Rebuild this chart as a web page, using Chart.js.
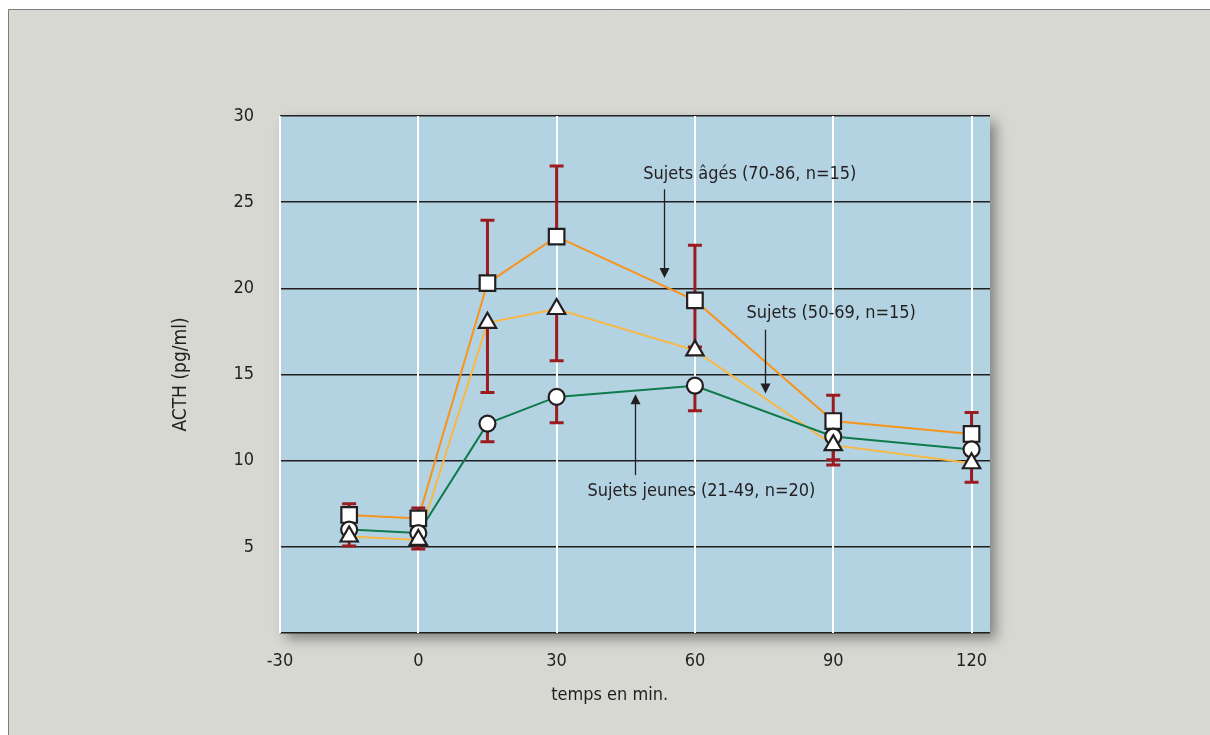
<!DOCTYPE html>
<html lang="fr">
<head>
<meta charset="utf-8">
<title>ACTH</title>
<script src="https://cdn.jsdelivr.net/npm/chart.js@4.4.1/dist/chart.umd.min.js"></script>
<style>
    html, body { margin: 0; padding: 0; background: #ffffff; }
    #acthChart { display: block; }
</style>
</head>
<body>
<canvas id="acthChart" width="1210" height="735"></canvas>
<script>
// temps (min) et ACTH moyenne (pg/ml) par groupe
const temps = [-15, 0, 15, 30, 60, 90, 120];

const agesMoy = [6.85, 6.65, 20.3, 23.0, 19.3, 12.3, 11.55];
const agesErrHaut = [7.5, 7.25, 23.95, 27.1, 22.5, 13.8, 12.8];
const agesErrBas = [null, null, null, null, 16.6, null, null];

const moyensMoy = [5.6, 5.4, 18.0, 18.8, 16.4, 10.9, 9.85];
const moyensErrBas = [5.05, 4.87, 13.95, 15.8, null, 9.75, 8.75];

const jeunesMoy = [6.0, 5.8, 12.15, 13.7, 14.35, 11.4, 10.65];
const jeunesErrBas = [null, null, 11.1, 12.2, 12.9, 10.05, null];

const xTicks = [-30, 0, 30, 60, 90, 120];
const yTicks = [5, 10, 15, 20, 25, 30];

// étiquettes avec flèche (coordonnées en unités des axes)
const etiquettes = [
    { texte: "Sujets âgés (70-86, n=15)", x: 48.8, y: 26.6, flecheX: 53.2, de: 25.75, a: 20.6 },
    { texte: "Sujets (50-69, n=15)", x: 71.2, y: 18.55, flecheX: 75.3, de: 17.6, a: 13.9 },
    { texte: "Sujets jeunes (21-49, n=20)", x: 36.7, y: 8.2, flecheX: 47.1, de: 9.16, a: 13.86 }
];

const couleurs = {
    fond: "#d8d8d3",
    cadre: "#7d7d7d",
    zone: "#b3d3e3",
    ages: "#f7941d",
    moyens: "#f8b843",
    jeunes: "#0f7a4b",
    erreur: "#9b1c20",
    texte: "#231f20"
};

const police = '"Liberation Sans Narrow", "DejaVu Sans Condensed", "Roboto", sans-serif';
Chart.defaults.font.family = police;
Chart.defaults.color = couleurs.texte;

function points(valeurs) {
    return temps.map((t, i) => ({ x: t, y: valeurs[i] }));
}

const fondPlugin = {
    id: "fondPlugin",
    beforeDraw(chart) {
        const { ctx, chartArea, width, height } = chart;
        ctx.save();
        ctx.fillStyle = "#ffffff";
        ctx.fillRect(0, 0, width, height);
        ctx.fillStyle = couleurs.fond;
        ctx.fillRect(8, 9, width, height);
        ctx.strokeStyle = couleurs.cadre;
        ctx.lineWidth = 1;
        ctx.beginPath();
        ctx.moveTo(8.5, height);
        ctx.lineTo(8.5, 9.5);
        ctx.lineTo(width, 9.5);
        ctx.stroke();

        ctx.shadowColor = "rgba(0, 0, 0, 0.4)";
        ctx.shadowBlur = 12;
        ctx.shadowOffsetX = 6;
        ctx.shadowOffsetY = 6;
        ctx.fillStyle = couleurs.zone;
        ctx.fillRect(chartArea.left, chartArea.top,
            chartArea.right - chartArea.left, chartArea.bottom - chartArea.top);
        ctx.restore();
    }
};

function barre(ctx, px, py, pyFin) {
    ctx.beginPath();
    ctx.moveTo(px, py);
    ctx.lineTo(px, pyFin);
    ctx.moveTo(px - 7, pyFin);
    ctx.lineTo(px + 7, pyFin);
    ctx.stroke();
}

const erreursPlugin = {
    id: "erreursPlugin",
    beforeDatasetDraw(chart, args) {
        if (chart.data.datasets[args.index].id !== "marquesAges") return;
        const { ctx, scales: { x, y } } = chart;
        ctx.save();
        ctx.strokeStyle = couleurs.erreur;
        ctx.lineWidth = 3;
        const series = [
            [agesMoy, agesErrHaut], [agesMoy, agesErrBas],
            [moyensMoy, moyensErrBas], [jeunesMoy, jeunesErrBas]
        ];
        series.forEach(([moy, err]) => {
            temps.forEach((t, i) => {
                if (err[i] == null) return;
                barre(ctx, x.getPixelForValue(t), y.getPixelForValue(moy[i]), y.getPixelForValue(err[i]));
            });
        });
        ctx.restore();
    }
};

const etiquettesPlugin = {
    id: "etiquettesPlugin",
    afterDraw(chart) {
        const { ctx, chartArea, scales: { x, y } } = chart;
        ctx.save();
        ctx.fillStyle = couleurs.texte;
        ctx.strokeStyle = couleurs.texte;
        ctx.font = "18px " + police;
        ctx.textBaseline = "middle";
        ctx.textAlign = "left";
        etiquettes.forEach(e => {
            ctx.fillText(e.texte, x.getPixelForValue(e.x), y.getPixelForValue(e.y));
            const fx = Math.round(x.getPixelForValue(e.flecheX)) + 0.5;
            const y0 = y.getPixelForValue(e.de);
            const y1 = y.getPixelForValue(e.a);
            const sens = y1 > y0 ? 1 : -1;
            ctx.lineWidth = 1.3;
            ctx.beginPath();
            ctx.moveTo(fx, y0);
            ctx.lineTo(fx, y1 - sens * 9);
            ctx.stroke();
            ctx.beginPath();
            ctx.moveTo(fx, y1);
            ctx.lineTo(fx - 5, y1 - sens * 10);
            ctx.lineTo(fx + 5, y1 - sens * 10);
            ctx.closePath();
            ctx.fill();
        });

        // titre de l'axe horizontal
        ctx.font = "18px " + police;
        ctx.textAlign = "center";
        ctx.fillText("temps en min.", x.getPixelForValue(41.5), chartArea.bottom + 62);
        ctx.restore();
    }
};

const ctx = document.getElementById("acthChart").getContext("2d");

new Chart(ctx, {
    type: "line",
    data: {
        datasets: [
            {
                id: "ligneAges",
                data: points(agesMoy),
                borderColor: couleurs.ages,
                borderWidth: 2,
                pointRadius: 0,
                order: 6
            },
            {
                id: "ligneMoyens",
                data: points(moyensMoy),
                borderColor: couleurs.moyens,
                borderWidth: 2,
                pointRadius: 0,
                order: 5
            },
            {
                id: "ligneJeunes",
                data: points(jeunesMoy),
                borderColor: couleurs.jeunes,
                borderWidth: 2,
                pointRadius: 0,
                order: 4
            },
            {
                id: "marquesAges",
                data: points(agesMoy),
                showLine: false,
                pointStyle: "rect",
                pointRadius: 11,
                pointBorderWidth: 2.2,
                pointBorderColor: couleurs.texte,
                pointBackgroundColor: "#ffffff",
                order: 3
            },
            {
                id: "marquesJeunes",
                data: points(jeunesMoy),
                showLine: false,
                pointStyle: "circle",
                pointRadius: 8,
                pointBorderWidth: 2.2,
                pointBorderColor: couleurs.texte,
                pointBackgroundColor: "#ffffff",
                order: 2
            },
            {
                id: "marquesMoyens",
                data: points(moyensMoy),
                showLine: false,
                pointStyle: "triangle",
                pointRadius: 10,
                pointBorderWidth: 2.2,
                pointBorderColor: couleurs.texte,
                pointBackgroundColor: "#ffffff",
                order: 1
            }
        ]
    },
    options: {
        responsive: false,
        animation: false,
        devicePixelRatio: 1,
        layout: {
            padding: { left: 160, top: 116, right: 220, bottom: 0 }
        },
        plugins: {
            legend: { display: false },
            tooltip: { enabled: false }
        },
        scales: {
            x: {
                type: "linear",
                min: -30,
                max: 124,
                afterFit: scale => { scale.height = 102; },
                afterBuildTicks: scale => { scale.ticks = xTicks.map(v => ({ value: v })); },
                ticks: {
                    font: { size: 18 },
                    color: couleurs.texte,
                    padding: 18,
                    maxRotation: 0
                },
                grid: {
                    color: "#ffffff",
                    lineWidth: 2,
                    drawTicks: false,
                    z: 0
                },
                border: { display: false }
            },
            y: {
                min: 0,
                max: 30,
                afterFit: scale => { scale.width = 120; },
                afterBuildTicks: scale => { scale.ticks = [0].concat(yTicks).map(v => ({ value: v })); },
                ticks: {
                    font: { size: 18 },
                    color: couleurs.texte,
                    padding: 26,
                    callback: v => (v === 0 ? "" : v)
                },
                grid: {
                    color: couleurs.texte,
                    lineWidth: 1.5,
                    drawTicks: false,
                    z: -1
                },
                border: { display: false },
                title: {
                    display: true,
                    text: "ACTH (pg/ml)",
                    font: { size: 19 },
                    color: couleurs.texte,
                    padding: { top: 10, bottom: 0 }
                }
            }
        }
    },
    plugins: [fondPlugin, erreursPlugin, etiquettesPlugin]
});
</script>
</body>
</html>
